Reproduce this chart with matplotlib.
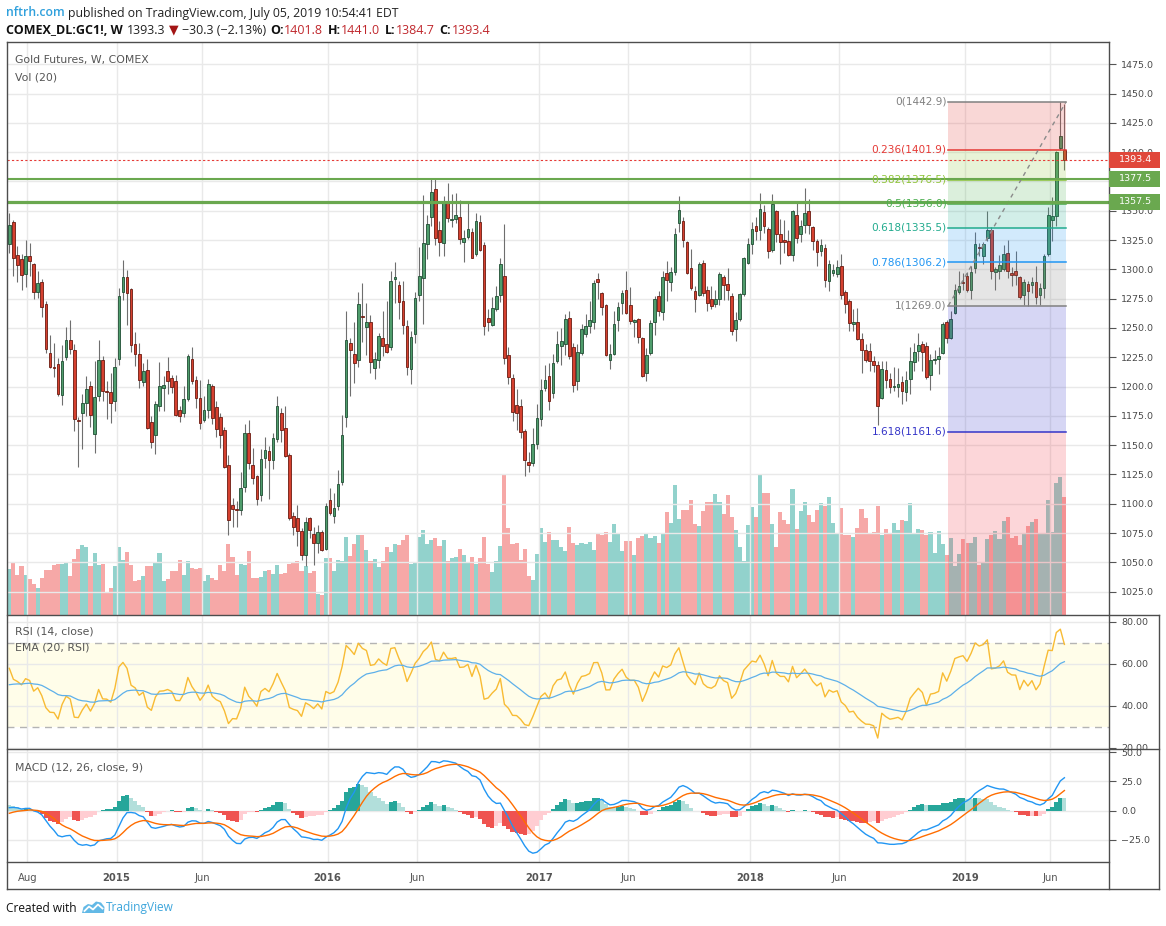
import numpy as np
import pandas as pd
import matplotlib
matplotlib.use("Agg")
import matplotlib.pyplot as plt
from matplotlib.lines import Line2D
from matplotlib.patches import Rectangle, Polygon
from matplotlib.ticker import FuncFormatter
from matplotlib.transforms import Bbox, TransformedBbox

# ------------------------------------------------------------------ data
first_week = "2014-07-07"   # weekly bars (Monday dates)

opens = [
    1321.5, 1340.6, 1311.9, 1309.0, 1296.0, 1311.3, 1304.5, 1281.0, 1289.0, 1270.3,
    1228.5, 1216.9, 1219.4, 1192.7, 1225.1, 1239.6, 1231.1, 1171.7, 1177.3, 1185.9,
    1200.4, 1159.4, 1191.6, 1222.6, 1196.4, 1195.3, 1188.1, 1223.1, 1281.1, 1293.4,
    1283.1, 1236.2, 1227.7, 1203.8, 1214.0, 1169.7, 1158.3, 1183.0, 1198.7, 1213.2,
    1207.2, 1204.6, 1179.9, 1177.3, 1189.3, 1223.4, 1205.8, 1190.4, 1171.1, 1180.2,
    1200.4, 1182.5, 1173.9, 1163.1, 1133.0, 1098.8, 1095.7, 1094.3, 1114.2, 1160.3,
    1132.7, 1123.9, 1107.1, 1138.7, 1144.9, 1137.0, 1155.2, 1177.3, 1164.6, 1141.8,
    1089.5, 1087.8, 1076.7, 1055.9, 1087.5, 1074.4, 1066.9, 1075.8, 1061.6, 1103.4,
    1089.2, 1097.7, 1118.2, 1173.9, 1237.1, 1227.4, 1222.8, 1260.6, 1250.7, 1255.2,
    1216.0, 1222.8, 1241.6, 1236.5, 1233.6, 1292.2, 1286.8, 1273.2, 1252.1, 1214.9,
    1244.7, 1278.0, 1292.5, 1321.5, 1344.5, 1368.7, 1333.7, 1322.4, 1358.2, 1342.5,
    1343.1, 1344.8, 1323.2, 1327.5, 1332.0, 1313.0, 1340.6, 1320.9, 1258.7, 1252.4,
    1266.0, 1278.0, 1294.5, 1227.1, 1207.5, 1184.7, 1183.0, 1161.7, 1135.8, 1134.6,
    1151.1, 1172.5, 1198.9, 1209.2, 1194.4, 1221.4, 1234.2, 1236.5, 1258.7, 1233.9,
    1204.6, 1228.8, 1244.7, 1251.5, 1255.0, 1291.9, 1280.0, 1269.7, 1222.8, 1227.9,
    1257.0, 1270.9, 1282.5, 1269.7, 1255.0, 1257.8, 1241.6, 1211.4, 1228.5, 1255.0,
    1276.9, 1263.5, 1296.5, 1289.4, 1297.6, 1339.4, 1341.4, 1323.5, 1301.3, 1281.7,
    1278.3, 1305.6, 1282.0, 1274.3, 1270.3, 1274.6, 1293.9, 1287.7, 1277.4, 1249.0,
    1257.5, 1278.8, 1305.3, 1321.5, 1337.1, 1333.7, 1349.1, 1334.6, 1316.7, 1349.9,
    1330.3, 1325.2, 1324.6, 1312.4, 1346.5, 1330.0, 1338.0, 1349.9, 1336.3, 1323.8,
    1315.8, 1318.4, 1290.0, 1296.8, 1296.2, 1303.0, 1280.5, 1272.6, 1253.5, 1255.2,
    1240.7, 1231.3, 1230.5, 1222.2, 1218.8, 1190.1, 1214.3, 1206.6, 1199.5, 1199.5,
    1204.3, 1195.2, 1206.6, 1221.1, 1230.2, 1236.7, 1234.2, 1209.5, 1222.8, 1223.4,
    1228.8, 1254.7, 1241.6, 1263.2, 1280.5, 1289.1, 1294.7, 1282.0, 1301.3, 1319.5,
    1311.0, 1326.9, 1333.2, 1297.6, 1299.0, 1299.9, 1313.8, 1297.0, 1298.4, 1293.3,
    1278.0, 1287.6, 1286.5, 1289.3, 1278.0, 1284.2, 1312.7, 1341.7, 1345.9, 1403.7,
    1401.8,
]
highs = [
    1348.0, 1341.7, 1320.0, 1313.3, 1325.2, 1322.4, 1305.3, 1298.8, 1291.9, 1273.0,
    1244.0, 1237.6, 1224.8, 1235.1, 1251.0, 1256.4, 1236.5, 1173.9, 1193.8, 1208.6,
    1204.4, 1221.4, 1239.9, 1225.7, 1204.4, 1212.0, 1224.3, 1283.7, 1308.2, 1299.6,
    1284.0, 1246.7, 1237.1, 1220.3, 1223.7, 1175.1, 1188.1, 1220.6, 1209.2, 1225.4,
    1210.3, 1210.0, 1183.0, 1200.1, 1228.0, 1233.4, 1209.2, 1205.8, 1192.1, 1206.3,
    1201.8, 1188.1, 1177.3, 1165.1, 1141.5, 1104.8, 1102.0, 1127.0, 1168.2, 1171.1,
    1147.8, 1124.7, 1146.6, 1157.1, 1148.9, 1160.3, 1192.1, 1181.6, 1183.6, 1143.2,
    1093.4, 1098.6, 1079.2, 1088.6, 1088.6, 1080.6, 1082.0, 1077.8, 1100.6, 1113.4,
    1109.0, 1129.0, 1175.9, 1264.7, 1241.3, 1254.7, 1281.1, 1288.0, 1271.7, 1260.9,
    1229.4, 1245.6, 1264.9, 1272.6, 1299.0, 1305.9, 1290.5, 1290.5, 1257.0, 1247.8,
    1281.1, 1319.5, 1363.3, 1346.8, 1377.2, 1377.0, 1341.1, 1362.2, 1374.1, 1363.9,
    1365.0, 1358.8, 1333.7, 1356.5, 1335.4, 1348.0, 1346.0, 1323.2, 1266.0, 1276.3,
    1285.7, 1309.6, 1338.3, 1233.6, 1210.9, 1197.8, 1189.5, 1163.7, 1144.6, 1164.8,
    1185.3, 1206.6, 1218.8, 1220.5, 1227.4, 1247.0, 1250.1, 1261.5, 1264.9, 1237.3,
    1235.9, 1253.5, 1261.5, 1273.4, 1291.3, 1297.1, 1280.5, 1270.6, 1236.5, 1264.6,
    1272.0, 1282.5, 1299.0, 1284.8, 1257.8, 1258.7, 1242.7, 1232.5, 1257.0, 1277.4,
    1281.4, 1299.0, 1307.0, 1301.9, 1335.4, 1363.0, 1345.1, 1324.0, 1317.2, 1285.4,
    1306.7, 1308.4, 1285.4, 1285.4, 1282.0, 1297.6, 1295.6, 1301.1, 1280.0, 1263.5,
    1280.0, 1310.4, 1326.9, 1340.3, 1345.1, 1365.3, 1355.1, 1336.0, 1364.4, 1350.8,
    1343.1, 1342.3, 1333.7, 1350.8, 1357.3, 1342.3, 1369.6, 1359.9, 1337.4, 1326.0,
    1326.0, 1321.5, 1307.6, 1304.7, 1307.6, 1313.3, 1282.0, 1274.9, 1266.3, 1266.9,
    1245.9, 1235.9, 1237.1, 1225.7, 1221.4, 1221.7, 1221.7, 1211.4, 1216.6, 1216.0,
    1208.6, 1213.7, 1233.6, 1237.6, 1246.1, 1239.3, 1237.9, 1227.4, 1230.8, 1233.6,
    1255.0, 1256.4, 1264.9, 1287.7, 1299.0, 1296.8, 1297.6, 1302.5, 1331.7, 1322.4,
    1323.2, 1350.2, 1336.0, 1302.4, 1312.4, 1321.2, 1325.2, 1301.9, 1315.5, 1294.5,
    1291.9, 1289.9, 1293.3, 1303.0, 1288.2, 1313.2, 1353.0, 1362.1, 1401.4, 1442.9,
    1441.0,
]
lows = [
    1313.9, 1294.0, 1288.8, 1282.0, 1284.6, 1294.0, 1274.6, 1276.0, 1259.3, 1229.0,
    1215.5, 1207.8, 1191.6, 1183.9, 1222.8, 1227.4, 1161.7, 1131.3, 1146.6, 1174.5,
    1165.1, 1143.2, 1188.1, 1188.1, 1172.2, 1168.5, 1178.8, 1218.6, 1273.5, 1252.7,
    1229.1, 1217.2, 1198.4, 1200.1, 1163.7, 1147.2, 1142.4, 1179.3, 1178.8, 1193.3,
    1194.1, 1175.0, 1169.4, 1173.9, 1187.3, 1202.4, 1181.3, 1163.7, 1169.4, 1173.6,
    1168.0, 1156.6, 1147.2, 1130.1, 1073.0, 1079.8, 1080.6, 1090.3, 1109.7, 1129.6,
    1117.0, 1098.8, 1102.0, 1130.1, 1104.2, 1129.9, 1152.3, 1152.3, 1139.8, 1085.8,
    1073.5, 1063.6, 1052.2, 1046.5, 1071.2, 1047.4, 1057.9, 1060.1, 1060.7, 1090.6,
    1083.5, 1094.9, 1116.2, 1165.1, 1192.1, 1202.9, 1216.6, 1237.9, 1226.8, 1211.4,
    1206.1, 1215.7, 1226.5, 1228.8, 1231.6, 1270.9, 1257.8, 1244.7, 1209.5, 1202.1,
    1237.0, 1272.9, 1253.0, 1308.7, 1336.6, 1320.9, 1311.0, 1311.0, 1340.8, 1336.0,
    1339.4, 1321.5, 1306.1, 1325.8, 1309.3, 1311.0, 1316.1, 1244.1, 1247.0, 1251.3,
    1264.6, 1272.0, 1219.4, 1202.3, 1170.5, 1163.1, 1156.3, 1124.1, 1127.5, 1132.4,
    1146.6, 1166.5, 1196.1, 1180.2, 1190.1, 1220.3, 1218.0, 1226.8, 1223.7, 1195.2,
    1197.2, 1226.8, 1242.2, 1245.6, 1249.3, 1275.1, 1260.9, 1225.9, 1214.9, 1226.8,
    1247.8, 1262.1, 1262.1, 1253.5, 1242.2, 1237.0, 1208.0, 1204.6, 1226.8, 1243.6,
    1259.8, 1257.2, 1272.9, 1281.4, 1295.6, 1331.7, 1319.5, 1296.2, 1282.5, 1263.5,
    1277.4, 1277.7, 1264.3, 1266.0, 1267.8, 1270.0, 1274.0, 1274.0, 1244.4, 1238.7,
    1255.8, 1277.7, 1304.7, 1313.3, 1325.2, 1325.2, 1330.9, 1309.6, 1314.7, 1323.2,
    1304.7, 1313.8, 1311.0, 1307.0, 1322.4, 1323.2, 1330.9, 1330.3, 1316.7, 1302.7,
    1311.0, 1284.8, 1281.4, 1294.0, 1293.4, 1274.9, 1262.6, 1247.0, 1247.8, 1239.9,
    1211.4, 1220.8, 1213.1, 1212.3, 1166.8, 1189.5, 1198.6, 1194.7, 1196.1, 1191.0,
    1185.3, 1187.6, 1193.8, 1213.7, 1221.7, 1213.7, 1206.6, 1197.2, 1219.4, 1210.9,
    1227.4, 1237.0, 1240.7, 1262.1, 1279.1, 1282.0, 1280.5, 1274.9, 1296.8, 1311.8,
    1304.7, 1324.6, 1291.9, 1282.5, 1291.6, 1299.0, 1292.8, 1286.2, 1286.8, 1274.3,
    1270.0, 1268.9, 1279.7, 1270.6, 1270.0, 1275.7, 1311.8, 1324.6, 1337.4, 1402.0,
    1384.7,
]
closes = [
    1338.0, 1309.6, 1303.6, 1294.8, 1311.3, 1307.0, 1280.3, 1288.3, 1267.8, 1232.0,
    1216.6, 1215.5, 1193.6, 1222.0, 1239.6, 1232.0, 1172.2, 1170.5, 1185.9, 1197.8,
    1175.6, 1191.0, 1222.6, 1195.8, 1195.0, 1186.4, 1216.6, 1277.5, 1293.4, 1279.7,
    1235.4, 1227.7, 1205.5, 1213.2, 1164.6, 1152.6, 1185.0, 1200.4, 1201.2, 1204.6,
    1199.5, 1175.6, 1174.8, 1189.3, 1226.0, 1204.6, 1189.9, 1168.5, 1180.2, 1202.1,
    1173.6, 1163.7, 1158.3, 1131.8, 1086.0, 1095.4, 1094.3, 1113.4, 1160.3, 1134.7,
    1121.9, 1104.0, 1138.1, 1145.8, 1137.0, 1156.3, 1183.6, 1162.6, 1140.9, 1087.5,
    1080.6, 1076.4, 1055.9, 1084.6, 1077.2, 1066.4, 1075.8, 1060.7, 1097.7, 1092.0,
    1096.3, 1117.1, 1158.3, 1239.9, 1230.8, 1220.0, 1270.6, 1259.2, 1254.7, 1220.8,
    1223.7, 1243.3, 1234.8, 1229.6, 1290.5, 1293.9, 1272.0, 1252.7, 1216.6, 1242.7,
    1276.0, 1294.5, 1322.6, 1338.9, 1366.2, 1326.6, 1323.2, 1358.2, 1343.7, 1343.4,
    1346.5, 1325.8, 1326.9, 1334.6, 1309.8, 1341.4, 1316.7, 1251.8, 1255.0, 1267.2,
    1276.9, 1304.7, 1224.2, 1208.0, 1178.2, 1177.3, 1161.1, 1137.5, 1133.0, 1151.1,
    1173.3, 1196.7, 1205.2, 1188.1, 1220.3, 1235.9, 1239.0, 1257.8, 1226.2, 1201.5,
    1229.6, 1248.7, 1251.3, 1256.9, 1288.5, 1289.1, 1267.8, 1227.1, 1227.4, 1253.5,
    1268.3, 1280.0, 1263.2, 1256.1, 1256.4, 1242.2, 1208.9, 1227.1, 1254.4, 1275.1,
    1264.3, 1293.9, 1290.8, 1297.9, 1330.3, 1350.8, 1325.2, 1296.8, 1284.3, 1274.9,
    1304.7, 1279.7, 1271.2, 1268.6, 1274.3, 1296.2, 1286.5, 1282.5, 1247.8, 1257.0,
    1278.6, 1309.6, 1321.8, 1334.6, 1332.9, 1351.7, 1337.1, 1315.5, 1355.9, 1330.3,
    1323.2, 1323.2, 1312.4, 1349.9, 1326.6, 1336.6, 1348.5, 1337.7, 1323.8, 1315.0,
    1320.9, 1291.1, 1304.2, 1299.6, 1302.2, 1278.3, 1270.3, 1254.4, 1255.5, 1240.7,
    1230.8, 1222.8, 1222.2, 1218.6, 1183.0, 1215.1, 1206.0, 1199.5, 1200.5, 1201.8,
    1196.1, 1205.8, 1222.0, 1229.1, 1235.6, 1229.4, 1208.0, 1222.8, 1223.9, 1226.2,
    1253.0, 1241.6, 1257.8, 1282.5, 1286.0, 1288.5, 1282.0, 1297.6, 1321.8, 1318.4,
    1321.8, 1333.2, 1298.5, 1300.1, 1304.1, 1313.2, 1299.0, 1295.6, 1295.3, 1276.3,
    1289.3, 1281.4, 1288.8, 1276.3, 1284.2, 1311.5, 1346.2, 1345.7, 1400.5, 1414.2,
    1393.4,
]
# weekly volume, thousand contracts
volume_k = [
    457, 533, 403, 493, 403, 363, 313, 273, 373, 453, 453, 503, 513, 513, 523, 393,
    563, 663, 703, 683, 493, 623, 503, 513, 223, 273, 493, 683, 553, 633, 503, 343,
    353, 393, 493, 493, 533, 623, 343, 363, 443, 443,
    553, 403, 543, 473, 463, 473, 343, 403, 373, 353, 503, 443, 713, 583, 403, 513,
    503, 643, 373, 373, 383, 443, 453, 413, 503, 413, 423, 513, 533, 543, 443, 493,
    423, 443, 213, 203, 573, 573, 443, 553, 543, 783,
    590, 710, 800, 800, 650, 540, 560, 480, 540, 680, 630, 710, 700, 750, 800, 510,
    530, 780, 850, 710, 750, 770, 690, 750, 540, 570, 580, 660, 600, 530, 580, 510,
    570, 780, 510, 430, 540, 690, 1410, 870, 710, 720, 550, 660, 390,
    350, 610, 870, 730, 830, 750, 750, 680, 640, 880, 720, 700, 720, 710, 730, 650,
    810, 800, 830, 730, 910, 820, 640, 740, 740, 600, 770, 790, 820, 770, 790, 720,
    810, 1030, 920, 1300, 960, 1050, 1050, 1150, 910, 890,
    1040, 1130, 1130, 1210, 1130, 1010, 1200, 980, 850, 680, 540, 900, 1080, 980,
    1410, 1220, 1220, 910, 680, 1030, 950, 910, 1260, 860, 1040, 1130, 1000, 930,
    1050, 1120, 1090, 1180, 920, 820, 1070, 800, 800, 780, 870, 1060, 970, 820, 830,
    1090,
    800, 860, 810, 920, 850, 950, 940, 1120, 810, 860, 850, 800, 830, 620, 840, 710,
    600, 770, 490, 610, 760, 720, 720, 780, 500, 530, 760, 800, 840, 760, 940, 980,
    770, 790, 700, 810, 890, 930, 960, 810, 810, 1150, 830, 1320, 1380, 1180,
]

tick_labels = ["Aug", "2015", "Jun", "2016", "Jun", "2017", "Jun", "2018", "Jun", "2019", "Jun"]
tick_months = ["2014-08-01", "2015-01-01", "2015-06-01", "2016-01-01", "2016-06-01",
               "2017-01-01", "2017-06-01", "2018-01-01", "2018-06-01", "2019-01-01", "2019-06-01"]

support_levels = [1377.5, 1357.5]
last_price = 1393.4

# Fibonacci retracement drawn from (bar 231.4, 1269.04) to (bar 260.4, 1442.9)
fib_bars = [231.4, 260.4]
fib_low, fib_high = 1269.035, 1442.9
fib_ratios = [0, 0.236, 0.382, 0.5, 0.618, 0.786, 1, 1.618, 2.618]
fib_colors = ["#808080", "#e53935", "#8fc43a", "#4caf50", "#22ab8e", "#2196f3",
              "#808080", "#3535c8", "#f23645"]

# indicator values at the first bar
rsi_first, rsi_ema_first = 57.8, 50.0
macd_first, signal_first = 2.6, -2.2
ema26_first = 1302.0
rsi_move_scale = 22.0

# ------------------------------------------------------------------ calc
o = np.array(opens); h = np.array(highs); l = np.array(lows); c = np.array(closes)
v = np.array(volume_k, dtype=float)
n = len(c)
assert len(o) == len(h) == len(l) == len(v) == n, (len(o), len(h), len(l), len(v), n)
dates = pd.date_range(first_week, periods=n, freq="W-MON")
x = np.arange(n)

# RSI(14), Wilder smoothing
ag = rsi_move_scale * rsi_first / 100.0
al = rsi_move_scale * (1 - rsi_first / 100.0)
rsi = np.empty(n); rsi[0] = rsi_first
for i in range(1, n):
    d = c[i] - c[i - 1]
    ag = (ag * 13 + max(d, 0)) / 14
    al = (al * 13 + max(-d, 0)) / 14
    rsi[i] = 100 - 100 / (1 + ag / al)
rsi_ema = np.empty(n); rsi_ema[0] = rsi_ema_first
for i in range(1, n):
    rsi_ema[i] = rsi_ema[i - 1] + (rsi[i] - rsi_ema[i - 1]) * 2 / 21

# MACD(12, 26, 9)
e26 = ema26_first; e12 = ema26_first + macd_first
macd = np.empty(n); sig = np.empty(n)
macd[0] = macd_first; sig[0] = signal_first
for i in range(1, n):
    e12 += (c[i] - e12) * 2 / 13
    e26 += (c[i] - e26) * 2 / 27
    macd[i] = e12 - e26
    sig[i] = sig[i - 1] + (macd[i] - sig[i - 1]) * 2 / 10
hist = macd - sig

# ------------------------------------------------------------------ layout
W, H, DPI = 1166, 926, 100
fig = plt.figure(figsize=(W / DPI, H / DPI), dpi=DPI)
fig.patch.set_facecolor("white")

XL, XR, XRR = 6.7, 1108.5, 1159.3
Y_TOP, Y_RSI, Y_MACD, Y_TIME, Y_BOT = 42.0, 615.0, 749.3, 862.3, 889.0
BAR0_PX, BAR_PX = 9.33, 4.058
XLIM = ((XL - BAR0_PX) / BAR_PX, (XR - BAR0_PX) / BAR_PX)


def rect(x0, y0, x1, y1):
    return [x0 / W, 1 - y1 / H, (x1 - x0) / W, (y1 - y0) / H]


def fx(px):
    return px / W


def fy(py):
    return 1 - py / H


tick_pos = [int(np.searchsorted(dates, pd.Timestamp(m))) + 0.45 for m in tick_months]

GRID = "#e9e9e9"
AXTXT = "#4a4a4a"
box_prices = [last_price] + support_levels


def price_fmt(val, p):
    # labels fully covered by the price boxes are not drawn
    if any(abs(val - bp) < 4 for bp in box_prices):
        return ""
    return f"{val:.1f}"


# volume (bottom layer)
ax_v = fig.add_axes(rect(XL, Y_TOP, XR, Y_RSI))
ax_v.set_zorder(1)
ax_v.set_xlim(XLIM)
ax_v.set_ylim(0, (Y_RSI - Y_TOP) * 10)
up = c >= o
ax_v.bar(x[up], v[up], width=1.0, color="#26a69a", alpha=0.5, lw=0)
ax_v.bar(x[~up], v[~up], width=1.0, color="#ef5350", alpha=0.5, lw=0)
ax_v.axis("off")

# price pane
ax = fig.add_axes(rect(XL, Y_TOP, XR, Y_RSI))
ax.set_zorder(2)
ax.patch.set_visible(False)
ax.set_xlim(XLIM)
ax.set_ylim(1005.1, 1494.0)
ax.set_yticks(np.arange(1025, 1476, 25))
ax.yaxis.set_major_formatter(FuncFormatter(price_fmt))
ax.yaxis.tick_right()
ax.tick_params(axis="y", length=5, width=0.8, color="#555555", labelsize=6.8,
               labelcolor=AXTXT, pad=4)
ax.set_xticks(tick_pos)
ax.tick_params(axis="x", length=0, labelbottom=False)
ax.grid(True, color=GRID, lw=1.0, zorder=0)
ax.set_axisbelow(True)
for s in ax.spines.values():
    s.set_visible(False)

# candles
ax.vlines(x, l, h, color="#6e6e6e", lw=0.8, zorder=3)
body_lo = np.minimum(o, c)
body_h = np.maximum(np.abs(c - o), 0.6)
ax.bar(x[up], body_h[up], bottom=body_lo[up], width=0.66, color="#4f9d6c",
       edgecolor="#1f4d33", lw=0.6, zorder=4)
ax.bar(x[~up], body_h[~up], bottom=body_lo[~up], width=0.66, color="#d5402f",
       edgecolor="#6b1a10", lw=0.6, zorder=4)

# fibonacci retracement
rng = fib_high - fib_low
levels = [fib_high - r * rng for r in fib_ratios]
fx0, fx1 = fib_bars
for i in range(1, len(levels)):
    ax.fill_between([fx0, fx1], levels[i], levels[i - 1], color=fib_colors[i],
                    alpha=0.2, lw=0, zorder=5)
for r, lev, col in zip(fib_ratios, levels, fib_colors):
    if lev < 1005:
        continue
    ax.plot([fx0, fx1], [lev, lev], color=col, lw=1.1, zorder=6)
    lab = f"{r:g}({lev:.1f})"
    ax.text(fx0 - 0.45, lev, lab, color=col, fontsize=7.6, ha="right", va="center",
            zorder=8)
ax.plot(fib_bars, [fib_low, fib_high], color="#8a8a8a", lw=1.0, ls=(0, (3, 3)), zorder=6)

# horizontal lines
ax.axhline(support_levels[0], color="#6aa84f", lw=1.5, zorder=7)
ax.axhline(support_levels[1], color="#6aa84f", lw=2.3, zorder=7)
ax.axhline(last_price, color="#e53935", lw=0.8, ls=(0, (2, 2)), zorder=7)

# RSI pane
ax_r = fig.add_axes(rect(XL, Y_RSI, XR, Y_MACD))
ax_r.set_xlim(XLIM)
ax_r.set_ylim(19.24, 83.19)
ax_r.axhspan(30, 70, color="#fffde9", lw=0, zorder=0.1)
ax_r.axhline(70, color="#b4b4b4", lw=1.0, ls=(0, (5, 4)), zorder=1)
ax_r.axhline(30, color="#b4b4b4", lw=1.0, ls=(0, (5, 4)), zorder=1)
ax_r.plot(x, rsi, color="#f8bb33", lw=1.0, zorder=3)
ax_r.plot(x, rsi_ema, color="#5eb0ea", lw=0.9, zorder=3)
ax_r.set_yticks([20, 40, 60, 80])
ax_r.yaxis.set_major_formatter(FuncFormatter(lambda val, p: f"{val:.2f}"))
ax_r.yaxis.tick_right()
ax_r.tick_params(axis="y", length=5, width=0.8, color="#555555", labelsize=6.8,
                 labelcolor=AXTXT, pad=4)
ax_r.set_xticks(tick_pos)
ax_r.tick_params(axis="x", length=0, labelbottom=False)
ax_r.grid(True, color=GRID, lw=1.0)
ax_r.set_axisbelow(True)
for s in ax_r.spines.values():
    s.set_visible(False)

# MACD pane
ax_m = fig.add_axes(rect(XL, Y_MACD, XR, Y_TIME))
ax_m.set_xlim(XLIM)
ax_m.set_ylim(-44.1, 52.5)
hcol = []
for i in range(n):
    prev = hist[i - 1] if i > 0 else hist[i]
    if hist[i] >= 0:
        hcol.append("#26a69a" if hist[i] > prev else "#b2dfdb")
    else:
        hcol.append("#ef5350" if hist[i] < prev else "#ffcdd2")
ax_m.bar(x, hist, width=1.0, color=hcol, lw=0, zorder=2)
ax_m.plot(x, macd, color="#2196f3", lw=1.0, zorder=3)
ax_m.plot(x, sig, color="#ff6d00", lw=1.0, zorder=3)
ax_m.set_yticks([-25, 0, 25, 50])
ax_m.yaxis.set_major_formatter(FuncFormatter(lambda val, p: f"{val:.1f}".replace("-", "\u2212")))
ax_m.yaxis.tick_right()
ax_m.tick_params(axis="y", length=5, width=0.8, color="#555555", labelsize=6.8,
                 labelcolor=AXTXT, pad=4)
ax_m.set_xticks(tick_pos)
ax_m.set_xticklabels(tick_labels)
ax_m.tick_params(axis="x", length=0, labelsize=7.2, labelcolor="#555555", pad=7.5)
for t in ax_m.get_xticklabels():
    if t.get_text().isdigit():
        t.set_fontweight("bold")
ax_m.grid(True, color=GRID, lw=1.0)
ax_m.set_axisbelow(True)
for s in ax_m.spines.values():
    s.set_visible(False)

# frame lines
FR = "#4d4d4d"
def fline(x0, y0, x1, y1, lw=1.0, color=FR):
    fig.add_artist(Line2D([fx(x0), fx(x1)], [fy(y0), fy(y1)], transform=fig.transFigure,
                          color=color, lw=lw, zorder=20))

fline(XL, Y_TOP, XL, Y_BOT)
fline(XR, Y_TOP, XR, Y_BOT)
fline(XRR, Y_RSI, XRR, Y_BOT)
fline(XL, Y_TOP, XR, Y_TOP)
fline(XL, Y_RSI, XRR, Y_RSI)
fline(XL, Y_MACD, XRR, Y_MACD)
fline(XL, Y_TIME, XR, Y_TIME)
fline(XL, Y_BOT, XRR, Y_BOT)

fig.canvas.draw()

# axis labels of the lower panes are cut at the pane borders
for axx, ytop, ybot in [(ax_r, Y_RSI, Y_MACD), (ax_m, Y_MACD, Y_TIME)]:
    clip = TransformedBbox(Bbox.from_extents(fx(XL), fy(ybot), 1.0, fy(ytop)),
                           fig.transFigure)
    for tk in axx.yaxis.get_major_ticks():
        for lab in (tk.label1, tk.label2):
            lab.set_clip_box(clip)
            lab.set_clip_on(True)


# price boxes on the axis
def price_box(price, color):
    yd = ax.transData.transform((0, price))[1]
    ypx = H - yd
    fig.add_artist(Rectangle((fx(XR + 0.5), fy(ypx + 8)), (XRR - XR) / W, 16 / H,
                             transform=fig.transFigure, color=color, lw=0, zorder=21))
    fig.text(fx(XR + 10), fy(ypx), f"{price:.1f}", color="white", fontsize=6.8,
             va="center", ha="left", zorder=22)

price_box(last_price, "#e0473a")
price_box(support_levels[0], "#6aa84f")
price_box(support_levels[1], "#6aa84f")

# pane titles
TT = "#555555"
fig.text(fx(15), fy(60), "Gold Futures, W, COMEX", color=TT, fontsize=7.8, va="center")
fig.text(fx(15), fy(77), "Vol (20)", color=TT, fontsize=7.8, va="center")
fig.text(fx(15), fy(631), "RSI (14, close)", color=TT, fontsize=7.8, va="center")
fig.text(fx(15), fy(648), "EMA (20, RSI)", color=TT, fontsize=7.8, va="center")
fig.text(fx(15), fy(768), "MACD (12, 26, close, 9)", color=TT, fontsize=7.8, va="center")

# header
renderer = fig.canvas.get_renderer()
HF = ["Open Sans", "DejaVu Sans"]
def seq_text(x0, ypx, pieces, size):
    xx = x0
    for s, col, wt, gap in pieces:
        t = fig.text(fx(xx), fy(ypx), s, color=col, fontsize=size, fontweight=wt,
                     va="center", ha="left", family=HF)
        xx += t.get_window_extent(renderer=renderer).width + gap

seq_text(6, 13, [("nftrh.com", "#2fa0dc", "semibold", 3.5),
                 ("published on TradingView.com, July 05, 2019 10:54:41 EDT", "#222222", "normal", 0)], 8.8)
RED = "#c0282d"
seq_text(6, 30, [("COMEX_DL:GC1!, W", "#111111", "bold", 4.5),
                 ("1393.3", "#222222", "normal", 3.5),
                 ("\u25BC", "#a31515", "normal", 3),
                 ("\u221230.3 (\u22122.13%)", "#222222", "normal", 4),
                 ("O:", "#111111", "bold", 0.5), ("1401.8", RED, "normal", 4.5),
                 ("H:", "#111111", "bold", 0.5), ("1441.0", RED, "normal", 4.5),
                 ("L:", "#111111", "bold", 0.5), ("1384.7", RED, "normal", 4.5),
                 ("C:", "#111111", "bold", 0.5), ("1393.4", RED, "normal", 0)], 9.0)

# footer
fig.text(fx(6), fy(908), "Created with", color="#111111", fontsize=8.6, va="center",
         family=HF)
cloud = [(82, 913), (83.5, 907), (88, 904), (92, 905), (96, 901.5), (101, 902.5),
         (104.5, 907), (104, 913)]
fig.add_artist(Polygon([(fx(a), fy(b)) for a, b in cloud], closed=True,
                       transform=fig.transFigure, color="#63b9e6", lw=0))
zig = [(84.5, 911), (89, 906.5), (93, 909.5), (98, 904.5), (102.5, 908.5)]
fig.add_artist(Line2D([fx(a) for a, b in zig], [fy(b) for a, b in zig],
                      transform=fig.transFigure, color="white", lw=1.3))
fig.text(fx(106), fy(908), "TradingView", color="#3ea6dc", fontsize=8.6, va="center",
         family=HF)

fig.savefig("out.png", dpi=DPI, facecolor="white")
